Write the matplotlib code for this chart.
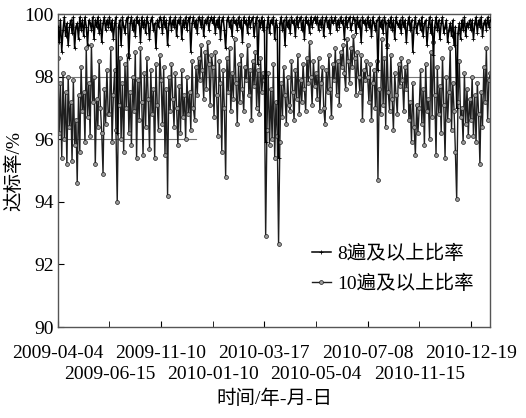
import numpy as np
import matplotlib
matplotlib.use('Agg')
import matplotlib.pyplot as plt

# tick labels (one every 40 records)
date_labels = ['2009-04-04', '2009-06-15', '2009-11-10', '2010-01-10', '2010-03-17',
               '2010-05-04', '2010-07-08', '2010-11-15', '2010-12-19']
step = 40

# 8遍及以上比率 (%)
rate8 = [
    99.6, 99.1, 99.8, 98.8, 99.5, 99.9, 99.3, 99.7, 99.0, 99.6,
    99.8, 99.4, 99.9, 98.9, 99.6, 99.7, 99.2, 99.9, 99.5, 99.8,
    99.3, 99.9, 99.6, 99.0, 99.8, 99.7, 99.5, 99.9, 99.2, 99.8,
    99.6, 99.9, 99.4, 99.8, 99.1, 99.7, 99.9, 99.5, 99.8, 99.6,
    99.9, 99.5, 99.8, 99.2, 99.7, 99.9, 96.2, 99.6, 99.8, 99.0,
    99.9, 99.6, 99.4, 99.8, 99.9, 98.6, 99.7, 99.9, 99.5, 99.8,
    99.3, 99.9, 99.7, 99.8, 99.1, 99.9, 99.6, 99.8, 99.4, 99.9,
    99.7, 99.2, 99.8, 99.9, 99.5, 99.7, 98.9, 99.8, 99.6, 99.9,
    99.8, 99.4, 99.9, 99.6, 99.8, 99.0, 99.7, 99.9, 99.5, 99.8,
    99.6, 99.9, 99.3, 99.8, 99.7, 99.9, 99.2, 99.8, 99.6, 99.9,
    99.5, 99.8, 99.9, 98.8, 99.7, 99.9, 99.6, 99.8, 99.4, 99.9,
    99.8, 99.6, 99.9, 99.3, 99.8, 99.7, 99.9, 99.5, 99.8, 99.9,
    99.7, 99.9, 99.4, 99.8, 99.6, 99.9, 99.2, 99.8, 99.9, 99.5,
    98.9, 99.8, 99.9, 99.6, 99.8, 99.3, 99.9, 99.7, 99.8, 99.5,
    99.9, 99.6, 99.8, 99.1, 99.9, 99.7, 99.8, 99.4, 99.9, 99.6,
    99.8, 99.9, 99.3, 99.7, 99.9, 98.4, 99.8, 99.6, 99.9, 99.5,
    99.8, 95.9, 99.6, 99.9, 99.4, 99.8, 99.7, 99.9, 99.2, 99.8,
    99.6, 95.4, 99.7, 99.9, 99.5, 99.8, 99.0, 99.9, 99.6, 99.8,
    99.4, 99.9, 99.7, 99.8, 99.3, 99.9, 99.6, 99.8, 99.9, 99.5,
    99.8, 99.2, 99.9, 99.7, 99.8, 99.4, 99.9, 99.6, 99.8, 99.9,
    99.7, 99.9, 99.5, 99.8, 99.6, 99.9, 99.3, 99.8, 99.9, 99.6,
    99.8, 99.4, 99.9, 99.7, 99.8, 99.9, 99.5, 99.8, 99.6, 99.9,
    99.7, 99.8, 99.2, 99.9, 99.6, 99.8, 99.9, 99.5, 99.7, 99.9,
    99.8, 99.4, 99.9, 99.6, 99.8, 99.1, 99.9, 99.7, 99.8, 99.5,
    99.9, 99.6, 99.8, 99.3, 99.9, 99.7, 99.5, 99.8, 98.2, 99.9,
    99.6, 99.8, 99.4, 99.9, 99.7, 98.9, 99.8, 99.6, 99.9, 99.5,
    99.8, 99.2, 99.9, 99.7, 99.6, 99.8, 99.4, 99.9, 99.6, 99.8,
    99.1, 99.7, 99.9, 99.5, 99.8, 98.8, 99.6, 99.9, 99.4, 99.7,
    99.8, 99.5, 99.9, 99.3, 99.7, 99.8, 99.0, 99.6, 99.9, 99.4,
    99.8, 98.7, 99.6, 99.9, 99.5, 99.8, 99.2, 99.7, 99.9, 99.4,
    99.6, 99.8, 99.1, 99.5, 99.7, 99.3, 99.8, 99.0, 99.6, 97.0,
    99.4, 99.7, 99.2, 99.8, 99.5, 99.9, 99.3, 99.7, 99.6, 99.8,
    99.5, 99.8, 99.2, 99.7, 99.9, 99.4, 99.8, 99.6, 99.9, 99.3,
    99.7, 99.8, 99.5, 99.9, 99.6, 99.8,
]

# 10遍及以上比率 (%)
rate10 = [
    98.6, 96.2, 97.8, 95.4, 98.1, 96.0, 97.5, 95.2, 98.0, 96.4,
    97.2, 95.3, 97.9, 95.8, 96.6, 94.6, 97.4, 95.6, 98.3, 96.9,
    97.5, 95.9, 98.9, 96.7, 97.8, 96.1, 99.0, 97.2, 98.0, 95.2,
    97.3, 96.4, 98.5, 97.0, 96.2, 94.9, 97.6, 96.5, 98.2, 96.8,
    96.8, 98.9, 95.9, 97.4, 98.2, 96.3, 94.0, 97.1, 98.6, 96.0,
    97.8, 95.6, 98.4, 97.0, 98.7, 96.2, 97.5, 95.8, 98.0, 96.9,
    98.8, 95.4, 97.9, 96.6, 98.9, 97.2, 95.5, 98.1, 96.4, 98.6,
    97.3, 95.7, 98.2, 96.8, 97.6, 95.4, 98.4, 97.1, 96.3, 98.7,
    97.9, 96.5, 98.3, 95.5, 97.6, 94.2, 98.0, 96.9, 98.4, 97.3,
    96.4, 98.1, 97.0, 95.8, 97.7, 96.2, 98.2, 96.7, 97.4, 96.0,
    98.0, 96.8, 97.5, 96.3, 98.5, 97.0, 96.6, 98.3, 97.4, 98.6,
    97.9, 99.0, 98.2, 97.3, 98.8, 97.6, 99.1, 98.4, 97.1, 98.7,
    98.3, 96.7, 98.8, 97.4, 96.1, 98.5, 97.8, 95.6, 98.2, 97.0,
    94.8, 98.6, 97.5, 98.9, 96.9, 98.1, 97.3, 99.2, 97.8, 96.5,
    98.4, 97.2, 98.7, 97.6, 96.9, 98.3, 97.9, 99.0, 97.4, 98.2,
    96.6, 98.5, 97.7, 98.8, 97.0, 98.2, 96.8, 98.6, 97.5, 98.1,
    97.9, 92.9, 96.3, 98.1, 95.8, 97.6, 96.0, 98.4, 95.4, 97.2,
    96.1, 92.65, 95.9, 97.8, 96.7, 98.3, 97.4, 96.5, 98.0, 97.1,
    96.9, 98.5, 97.5, 96.6, 98.2, 97.3, 98.7, 96.8, 97.9, 97.2,
    98.4, 97.6, 96.9, 98.6, 97.8, 99.1, 98.0, 97.1, 98.5, 97.7,
    98.1, 97.3, 98.6, 96.9, 97.8, 98.3, 97.0, 96.5, 98.2, 97.5,
    98.7, 97.6, 96.7, 98.4, 97.9, 98.9, 97.4, 98.5, 97.1, 98.8,
    98.3, 99.0, 98.1, 97.6, 99.2, 98.5, 97.8, 98.9, 98.3, 99.3,
    98.6, 97.4, 98.8, 98.0, 97.5, 98.7, 96.6, 98.2, 97.9, 98.5,
    98.0, 97.2, 98.4, 96.6, 97.8, 98.2, 97.0, 98.5, 94.7, 97.6,
    96.8, 99.2, 97.1, 98.6, 96.4, 99.0, 97.5, 96.9, 98.7, 97.3,
    96.3, 98.1, 97.4, 96.8, 98.4, 97.7, 98.6, 97.9, 96.9, 98.3,
    97.6, 98.5, 96.6, 97.2, 95.9, 97.8, 96.4, 95.5, 97.1, 96.2,
    97.0, 98.2, 96.5, 97.6, 95.8, 98.4, 96.9, 97.3, 96.0, 98.8,
    96.7, 99.1, 97.4, 95.5, 98.3, 96.8, 97.7, 96.2, 98.6, 97.1,
    95.4, 98.0, 96.6, 97.5, 98.9, 96.3, 97.8, 96.9, 95.6, 94.1,
    97.2, 98.5, 96.7, 97.0, 95.9, 98.1, 96.5, 97.6, 96.1, 97.3,
    96.6, 98.0, 96.1, 97.4, 95.9, 97.8, 96.8, 95.2, 97.5, 96.4,
    98.3, 97.2, 98.9, 96.6, 97.9, 98.1,
]

idx = np.arange(len(rate8))
fonts = ['Liberation Serif', 'Noto Sans CJK SC']

fig = plt.figure(figsize=(5.26, 4.18), dpi=100)
ax = fig.add_axes([0.110, 0.2177, 0.822, 0.7488])

# grey reference lines
ax.axhline(98, color='#777777', lw=0.8, zorder=1)
ax.axhline(96, xmin=0, xmax=0.32, color='#777777', lw=0.8, zorder=1)

ax.plot(idx, rate10, '-o', color='#1e1e1e', lw=1.0, ms=2.8, mfc='#9a9a9a',
        mec='#1e1e1e', mew=0.5, label='10遍及以上比率', zorder=2)
ax.plot(idx, rate8, '-+', color='black', lw=1.1, ms=2.2, mew=0.6,
        label='8遍及以上比率', zorder=3)

ax.set_xlim(0, len(idx) - 1)
ax.set_ylim(90, 100)
ax.set_yticks(np.arange(90, 101, 2))

# two rows of date labels
major = np.arange(0, len(date_labels), 2) * step
minor = np.arange(1, len(date_labels), 2) * step
ax.set_xticks(major)
ax.set_xticklabels(date_labels[0::2])
ax.set_xticks(minor, minor=True)
ax.set_xticklabels(date_labels[1::2], minor=True)
ax.tick_params(axis='x', which='major', direction='in', length=4, pad=13)
ax.tick_params(axis='x', which='minor', direction='in', length=4, pad=28)
ax.tick_params(axis='y', direction='in', length=4, pad=3)
for lbl in ax.get_xticklabels(which='both') + ax.get_yticklabels():
    lbl.set_family(fonts)
    lbl.set_fontsize(14)

for sp in ax.spines.values():
    sp.set_color('#555555')
    sp.set_linewidth(1.0)

ax.set_ylabel('达标率/%', family=fonts, fontsize=14, labelpad=1)
ax.set_xlabel('时间/年-月-日', family=fonts, fontsize=14, labelpad=5)

h, l = ax.get_legend_handles_labels()
ax.legend(h[::-1], l[::-1], loc='center left', bbox_to_anchor=(0.588, 0.185),
          frameon=False, prop={'family': fonts, 'size': 14}, numpoints=1,
          handlelength=0.95, handletextpad=0.35, labelspacing=0.6,
          borderpad=0, borderaxespad=0)

fig.savefig('out.png', dpi=100)
